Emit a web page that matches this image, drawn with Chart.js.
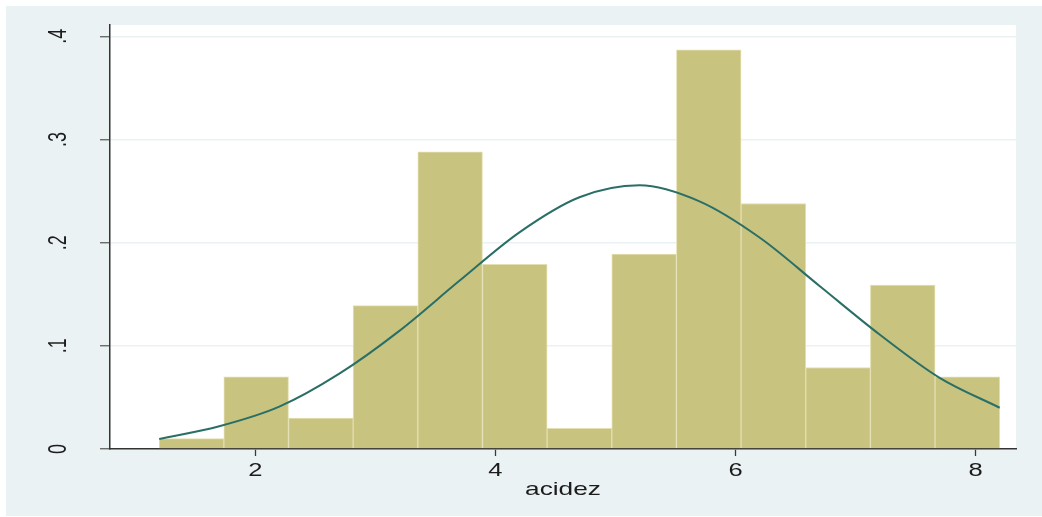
<!DOCTYPE html>
<html>
<head>
<meta charset="utf-8">
<title>acidez</title>
<script src="https://cdn.jsdelivr.net/npm/chart.js@4.4.1/dist/chart.umd.min.js"></script>
<style>
  html, body { margin: 0; padding: 0; background: #ffffff; overflow: hidden; }
  #wrap { width: 1042px; height: 517px; }
</style>
</head>
<body>
<div id="wrap"><canvas id="c" width="1042" height="517"></canvas></div>
<script>
// Histogram bins of acidez (edges) and their densities
const binEdges = [1.2, 1.738, 2.277, 2.815, 3.354, 3.892, 4.431, 4.969, 5.508, 6.046, 6.585, 7.123, 7.662, 8.2];
const density  = [0.010, 0.070, 0.030, 0.139, 0.288, 0.179, 0.020, 0.189, 0.387, 0.238, 0.079, 0.159, 0.070];

// Normal density overlay, sampled points
const curveX = [1.2, 1.7, 2.2, 2.7, 3.2, 3.7, 4.2, 4.7, 5.2, 5.7, 6.2, 6.7, 7.2, 7.7, 8.2];
const curveY = [0.0097, 0.022, 0.041, 0.073, 0.1145, 0.163, 0.210, 0.244, 0.2556, 0.240, 0.205, 0.158, 0.111, 0.069, 0.040];

// Axis ticks and labels
const xTicks = [2, 4, 6, 8];
const xTickLabels = ['2', '4', '6', '8'];
const yTicks = [0, 0.1, 0.2, 0.3, 0.4];
const yTickLabels = ['0', '.1', '.2', '.3', '.4'];
const xTitle = 'acidez';

const bars = density.map((d, i) => ({ x: (binEdges[i] + binEdges[i + 1]) / 2, y: d }));
const curve = curveX.map((x, i) => ({ x: x, y: curveY[i] }));

const REGION = '#EAF2F3';
const TEXT = '#1c1c1c';
const FONT_SIZE = 18;
const STRETCH = 1.42;   // wide lettering

const frame = {
  id: 'frame',
  beforeDraw(chart) {
    const ctx = chart.ctx, a = chart.chartArea;
    ctx.save();
    ctx.fillStyle = '#ffffff';
    ctx.fillRect(0, 0, chart.width, chart.height);
    ctx.fillStyle = REGION;
    ctx.fillRect(6, 6, chart.width - 6, chart.height - 7);
    ctx.fillStyle = '#ffffff';
    ctx.fillRect(a.left, a.top, a.right - a.left, a.bottom - a.top);
    ctx.restore();
  },
  afterDraw(chart) {
    const ctx = chart.ctx, a = chart.chartArea;
    const xs = chart.scales.x, ys = chart.scales.y;
    ctx.save();
    ctx.fillStyle = TEXT;
    ctx.font = FONT_SIZE + 'px "Liberation Sans", Arial, sans-serif';
    ctx.textAlign = 'center';
    ctx.textBaseline = 'alphabetic';
    xs.ticks.forEach(t => {
      const px = xs.getPixelForValue(t.value);
      ctx.save();
      ctx.translate(px, a.bottom + 27);
      ctx.scale(STRETCH, 1);
      ctx.fillText(xTickLabels[xTicks.indexOf(t.value)], 0, 0);
      ctx.restore();
    });
    ys.ticks.forEach(t => {
      const py = ys.getPixelForValue(t.value);
      ctx.save();
      ctx.translate(a.left - 44, py);
      ctx.scale(STRETCH, 1);
      ctx.rotate(-Math.PI / 2);
      ctx.fillText(yTickLabels[yTicks.indexOf(t.value)], 0, 0);
      ctx.restore();
    });
    ctx.font = '18.5px "Liberation Sans", Arial, sans-serif';
    ctx.save();
    ctx.translate((a.left + a.right) / 2, a.bottom + 46);
    ctx.scale(STRETCH, 1);
    ctx.fillText(xTitle, 0, 0);
    ctx.restore();
    ctx.restore();
  }
};

new Chart(document.getElementById('c'), {
  type: 'bar',
  data: {
    datasets: [
      {
        type: 'line',
        data: curve,
        borderColor: '#2a6f66',
        borderWidth: 2,
        pointRadius: 0,
        fill: false,
        cubicInterpolationMode: 'monotone',
        order: 1
      },
      {
        type: 'bar',
        data: bars,
        backgroundColor: '#C9C380',
        borderColor: '#E3DFB0',
        borderWidth: 1,
        borderSkipped: 'bottom',
        barPercentage: 1,
        categoryPercentage: 1,
        grouped: false,
        order: 2
      }
    ]
  },
  options: {
    responsive: false,
    animation: false,
    devicePixelRatio: 1,
    layout: { padding: { top: 25, right: 26, left: 0, bottom: 0 } },
    plugins: { legend: { display: false }, tooltip: { enabled: false } },
    scales: {
      x: {
        type: 'linear',
        offset: false,
        min: 0.79,
        max: 8.336,
        afterBuildTicks: s => { s.ticks = xTicks.map(v => ({ value: v })); },
        afterFit: s => { s.height = 68; },
        ticks: { display: false },
        grid: { offset: false, drawOnChartArea: false, drawTicks: true, tickLength: 7, tickColor: '#3a3a3a', tickWidth: 1.3 },
        border: { display: true, color: '#333333', width: 1.5 }
      },
      y: {
        type: 'linear',
        min: 0,
        max: 0.411,
        afterBuildTicks: s => { s.ticks = yTicks.map(v => ({ value: v })); },
        afterFit: s => { s.width = 110; },
        ticks: { display: false },
        grid: { color: REGION, lineWidth: 1.5, drawTicks: true, tickLength: 10, tickColor: '#555555', tickWidth: 1.2 },
        border: { display: true, color: '#333333', width: 1.5 }
      }
    }
  },
  plugins: [frame]
});
</script>
</body>
</html>
